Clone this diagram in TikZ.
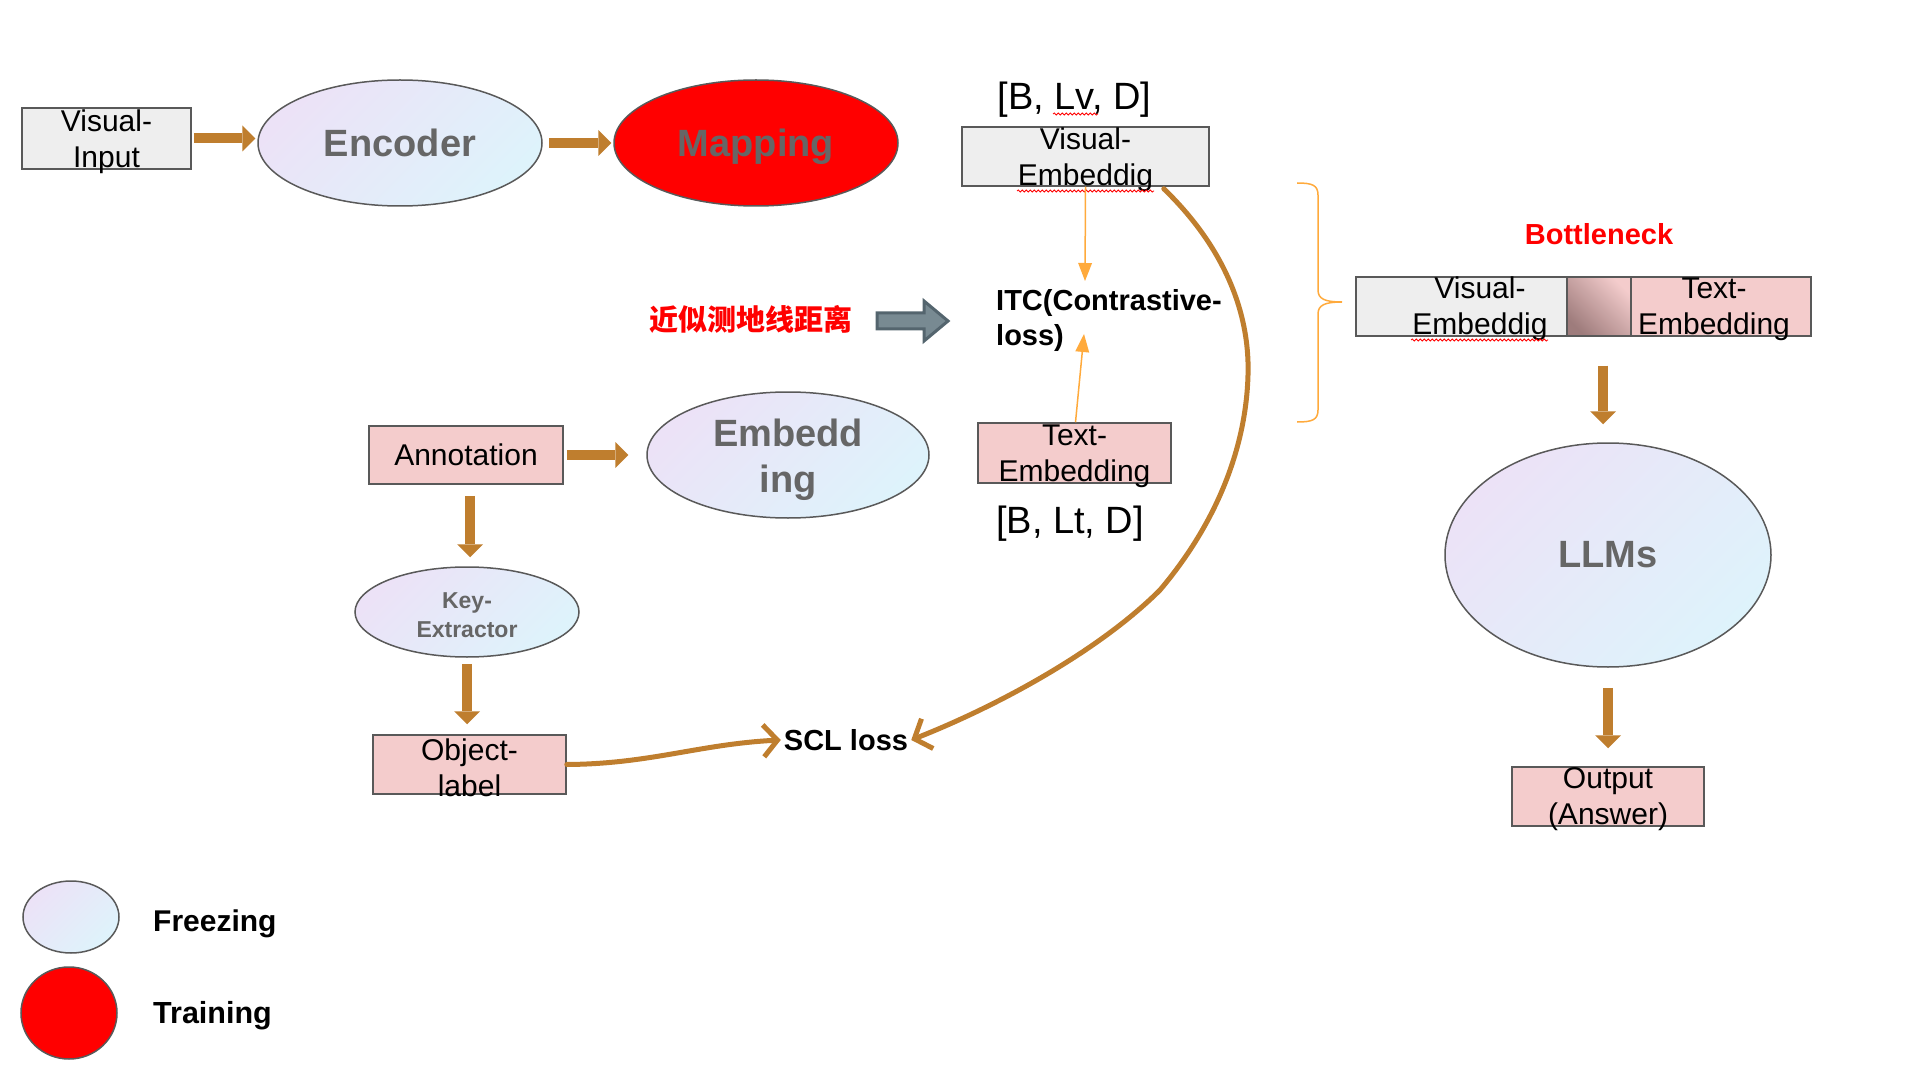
\documentclass[tikz,border=0pt]{standalone}
\usepackage{fontspec}
\setmainfont{Liberation Sans}
\newfontfamily\cjkfont{Noto Sans CJK SC}
\usetikzlibrary{arrows.meta,shapes.geometric,decorations.pathmorphing}
\definecolor{brownarr}{RGB}{191,126,46}
\definecolor{orangearr}{RGB}{255,170,60}
\definecolor{boxline}{RGB}{89,89,89}
\definecolor{grayfill}{RGB}{238,238,238}
\definecolor{pinkfill}{RGB}{244,204,204}
\definecolor{lav}{RGB}{236,226,247}
\definecolor{cyanl}{RGB}{222,243,251}
\definecolor{txtgray}{RGB}{102,102,102}
\definecolor{blkarrfill}{RGB}{120,138,146}
\definecolor{blkarrline}{RGB}{84,101,110}
\definecolor{mauve}{RGB}{158,124,124}
\tikzset{
  box/.style={draw=boxline, line width=1.5pt, inner sep=0pt},
  graybox/.style={box, fill=grayfill},
  pinkbox/.style={box, fill=pinkfill},
  frozen/.style={ellipse, draw=boxline, line width=1.5pt, inner sep=0pt, top color=lav, bottom color=cyanl, shading angle=45},
  trained/.style={ellipse, draw=boxline, line width=1.5pt, inner sep=0pt, fill=red},
  boxtext/.style={align=center, font=\fontsize{30}{36}\selectfont, inner sep=0pt},
  bigbold/.style={font=\fontsize{38}{46}\selectfont\bfseries, text=txtgray, align=center},
  boldlbl/.style={font=\fontsize{29}{35}\selectfont\bfseries, inner sep=0pt},
  blockarrow/.style={draw=brownarr, line width=10pt, -{Triangle[length=13pt,width=26pt,line width=0pt]}},
  thinarrow/.style={draw=orangearr, line width=1.5pt, -{Triangle[length=18pt,width=14pt,line width=0pt]}},
  handline/.style={draw=brownarr, line width=5pt, line cap=round, line join=round},
  squiggle/.style={draw=red, line width=0.8pt, decorate, decoration={snake, amplitude=1pt, segment length=4pt}},
}
\begin{document}
\begin{tikzpicture}[x=1pt,y=-1pt]
\useasboundingbox (0,0) rectangle (1931,1075);

% ---- top row
\node[graybox, minimum width=169pt, minimum height=61pt] (vin) at (106.5,138.5) {};
\node[boxtext] (vinT) at ([yshift=-3pt]vin.center) {Visual-\\Input};
\node[frozen, minimum width=284pt, minimum height=126pt, bigbold] (enc) at (400,143) {Encoder};
\node[trained, minimum width=284pt, minimum height=126pt, bigbold, text depth=1pt] (map) at (756,143) {Mapping};
\draw[blockarrow] ([xshift=2pt]vin.east) -- ([xshift=-2pt]vin.east -| enc.west);
\draw[blockarrow] ([xshift=6pt]enc.east) -- ([xshift=-2pt]map.west);

% ---- middle column
\node[anchor=base, inner sep=0pt, font=\fontsize{38}{42}\selectfont] (lvT) at (1074.5,110) {[B, Lv, D]};
\draw[squiggle] (1053,114) -- (1098,114);
\node[graybox, minimum width=247pt, minimum height=59pt] (vemb) at (1085.5,156.5) {};
\node[boxtext] (vembT) at ([yshift=-3pt]vemb.center) {Visual-\\Embeddig};
\draw[squiggle] (1017,191) -- (1154,191);

\node[anchor=north west, align=left, font=\fontsize{29}{35}\selectfont\bfseries, inner sep=0pt] (itc) at (996,289) {ITC(Contrastive-\\loss)};

\node[pinkbox, minimum width=193pt, minimum height=60pt] (temb) at (1074.5,453) {};
\node[boxtext] (tembT) at ([yshift=-3pt]temb.center) {Text-\\Embedding};
\node[anchor=base, inner sep=0pt, font=\fontsize{38}{42}\selectfont] (ltT) at (1070,533) {[B, Lt, D]};

\draw[thinarrow] (vemb.south) -- (1085,281);
\draw[thinarrow] ([xshift=1pt]temb.north) -- (1084,334);

\node[inner sep=0pt, text=red, font=\fontsize{29}{32}\selectfont\cjkfont\bfseries] (cn) at (751,319) {近似测地线距离};
\draw[fill=blkarrfill, draw=blkarrline, line width=3pt, line join=miter]
  (877,313) -- (924,313) -- (924,301) -- (948,321) -- (924,341) -- (924,329) -- (877,329) -- cycle;

% ---- brace
\draw[orangearr, line width=1.5pt]
  (1297,183) .. controls (1312,183) and (1318,185) .. (1318,195) -- (1318,290)
  .. controls (1318,299) and (1325,302) .. (1342,302)
  .. controls (1325,302) and (1318,305) .. (1318,314) -- (1318,410)
  .. controls (1318,420) and (1312,422) .. (1297,422);

% ---- right column
\node[boldlbl, text=red] (bott) at (1599,234) {Bottleneck};
\node[graybox, minimum width=211pt, minimum height=59pt] (barL) at (1461.5,306.5) {};
\node[box, minimum width=64pt, minimum height=59pt, top color=pinkfill, bottom color=mauve, shading angle=-45] (barM) at (1599,306.5) {};
\node[pinkbox, minimum width=180pt, minimum height=59pt] (barR) at (1721,306.5) {};
\node[boxtext] (barLT) at (1480,309) {Visual-\\Embeddig};
\node[boxtext] (barRT) at (1714,309) {Text-\\Embedding};
\draw[squiggle] (1411,340) -- (1548,340);

\node[frozen, minimum width=326pt, minimum height=224pt, bigbold] (llm) at (1608,555) {LLMs};
\draw[blockarrow] ([xshift=4pt,yshift=-29pt]barM.south) -- ([xshift=4pt,yshift=18pt]barM.south |- llm.north);
\node[pinkbox, minimum width=192pt, minimum height=59pt] (out) at (1608,796.5) {};
\node[boxtext] (outT) at ([yshift=-3pt]out.center) {Output\\(Answer)};
\draw[blockarrow] ([yshift=-20pt]llm.south) -- ([yshift=18pt]llm.south |- out.north);

% ---- lower left
\node[pinkbox, minimum width=194pt, minimum height=58pt, font=\fontsize{30}{36}\selectfont] (ann) at (466,455) {Annotation};
\node[frozen, minimum width=282pt, minimum height=126pt] (emb) at (788,455) {};
\node[bigbold, inner sep=0pt] (embT) at ([yshift=-5pt]emb.center) {Embedd\\ing};
\node[frozen, minimum width=224pt, minimum height=90pt] (key) at (467,612) {};
\node[font=\fontsize{23}{29}\selectfont\bfseries, text=txtgray, align=center, inner sep=0pt] (keyT) at ([yshift=-3pt]key.center) {Key-\\Extractor};
\node[pinkbox, minimum width=193pt, minimum height=59pt] (obj) at (469.5,764.5) {};
\node[boxtext] (objT) at ([yshift=-3pt]obj.center) {Object-\\label};
\node[boldlbl, inner sep=3pt] (scl) at (846,740) {SCL loss};

\draw[blockarrow] ([xshift=3pt]ann.east) -- ([xshift=-18pt]ann.east -| emb.west);
\draw[blockarrow] ([xshift=4pt,yshift=-11pt]ann.south) -- ([xshift=4pt,yshift=9pt]ann.south |- key.north);
\draw[blockarrow] ([yshift=-6pt]key.south) -- ([yshift=10pt]key.south |- obj.north);

\draw[handline, -{Straight Barb[length=14pt,width=32pt]}]
  (obj.east) .. controls (650,764) and (700,744) .. (scl.west);
\draw[handline, -{Straight Barb[length=14pt,width=32pt]}]
  ([xshift=-46pt,yshift=-2pt]vemb.south east) .. controls (1222,245) and (1250,310) .. (1248,375)
  .. controls (1246,450) and (1215,525) .. (1160,590)
  .. controls (1100,650) and (1000,705) .. (scl.east);

% ---- legend
\node[frozen, minimum width=96pt, minimum height=72pt] (lf) at (71,917) {};
\node[boldlbl, anchor=base west, font=\fontsize{30}{35}\selectfont\bfseries] (lfT) at (153,931) {Freezing};
\node[trained, minimum width=96pt, minimum height=92pt] (lt) at (69,1013) {};
\node[boldlbl, anchor=base west, font=\fontsize{30.5}{35}\selectfont\bfseries] (ltTr) at (153,1023) {Training};
\end{tikzpicture}
\end{document}
